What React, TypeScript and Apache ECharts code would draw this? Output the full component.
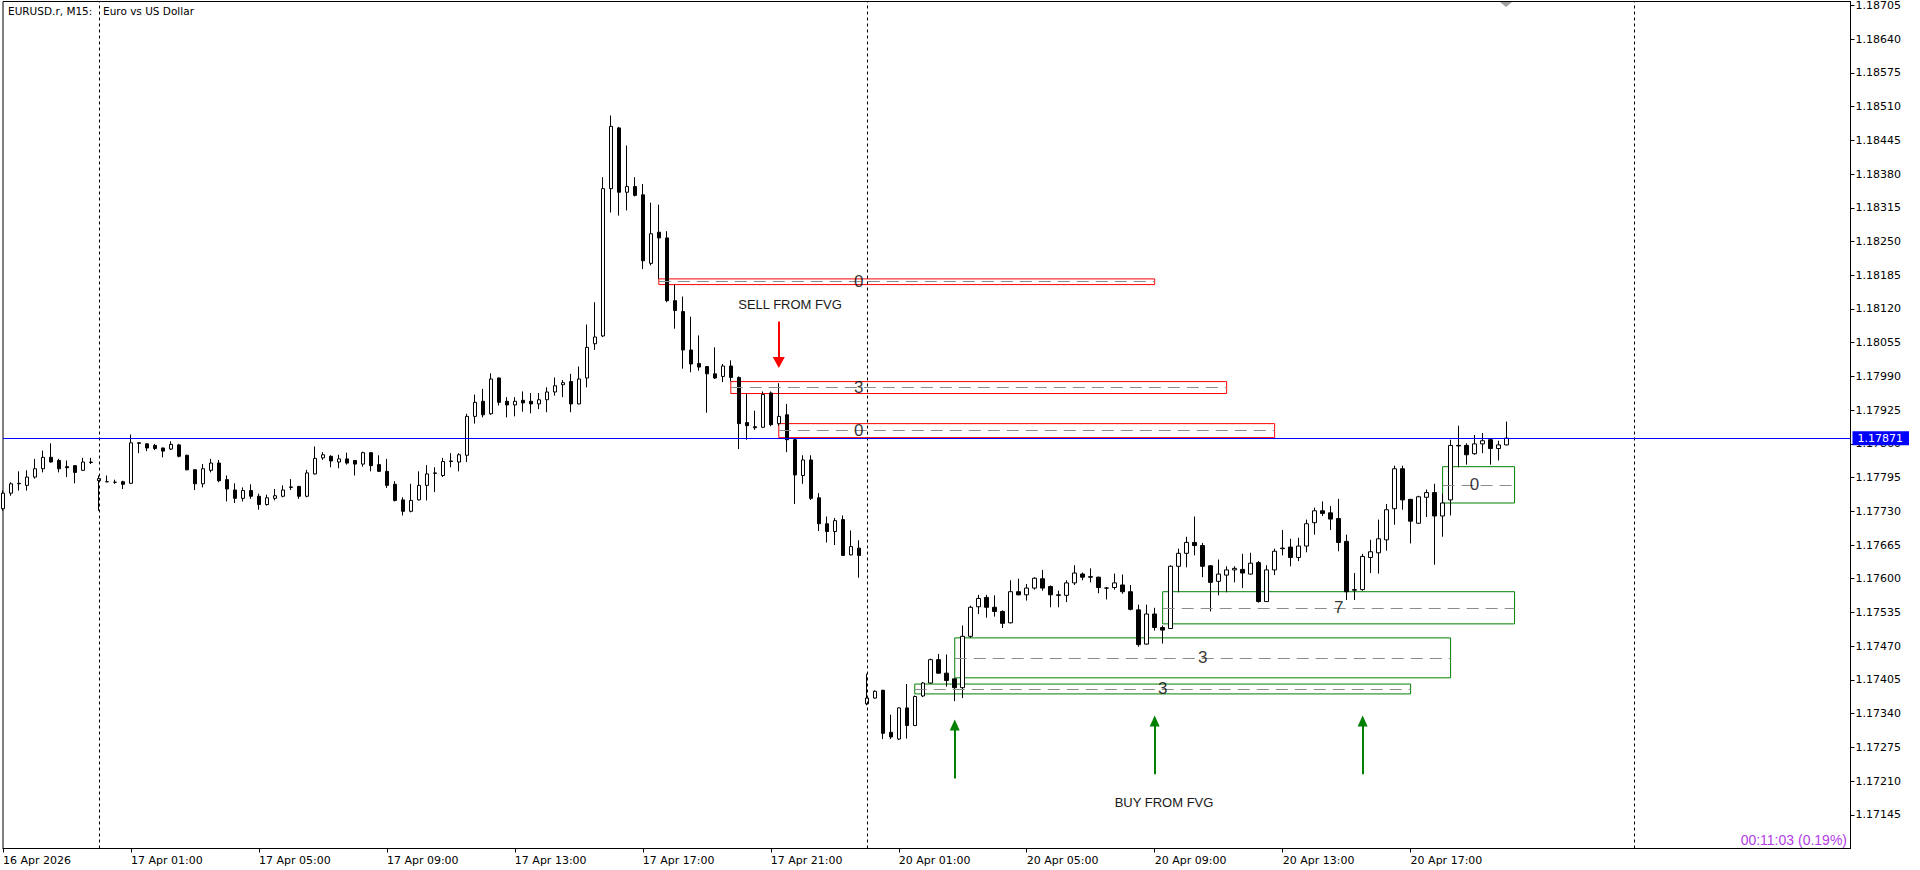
import React, { useEffect, useRef } from 'react';
import * as echarts from 'echarts';

// ---- OHLC values: [open, high, low, close] ----
const thursdayBars: number[][] = [
  [1.17735, 1.17770, 1.17731, 1.17765], [1.17765, 1.17786, 1.17760, 1.17783], [1.17783, 1.17807, 1.17770, 1.17784],
  [1.17780, 1.17809, 1.17770, 1.17796], [1.17796, 1.17831, 1.17793, 1.17812], [1.17812, 1.17847, 1.17805, 1.17834],
  [1.17834, 1.17861, 1.17824, 1.17825], [1.17828, 1.17831, 1.17805, 1.17812], [1.17816, 1.17828, 1.17796, 1.17814],
  [1.17818, 1.17819, 1.17784, 1.17805], [1.17809, 1.17833, 1.17808, 1.17825], [1.17824, 1.17833, 1.17821, 1.17825],
];

const fridayBars: number[][] = [
  [1.17789, 1.17799, 1.17731, 1.17793], [1.17787, 1.17799, 1.17786, 1.17787], [1.17786, 1.17791, 1.17783, 1.17786],
  [1.17787, 1.17789, 1.17773, 1.17782], [1.17784, 1.17878, 1.17783, 1.17862], [1.17862, 1.17863, 1.17842, 1.17861],
  [1.17860, 1.17861, 1.17846, 1.17852], [1.17857, 1.17860, 1.17848, 1.17851], [1.17852, 1.17853, 1.17834, 1.17846],
  [1.17850, 1.17865, 1.17848, 1.17859], [1.17858, 1.17860, 1.17834, 1.17836], [1.17838, 1.17839, 1.17809, 1.17810],
  [1.17810, 1.17811, 1.17771, 1.17783], [1.17783, 1.17821, 1.17776, 1.17812], [1.17809, 1.17831, 1.17805, 1.17823],
  [1.17823, 1.17829, 1.17786, 1.17789], [1.17791, 1.17799, 1.17749, 1.17773], [1.17771, 1.17784, 1.17746, 1.17755],
  [1.17755, 1.17776, 1.17749, 1.17770], [1.17770, 1.17782, 1.17754, 1.17759], [1.17759, 1.17764, 1.17733, 1.17743],
  [1.17743, 1.17762, 1.17741, 1.17756], [1.17755, 1.17773, 1.17751, 1.17760], [1.17759, 1.17780, 1.17757, 1.17771],
  [1.17776, 1.17792, 1.17771, 1.17777], [1.17778, 1.17779, 1.17754, 1.17759], [1.17759, 1.17810, 1.17757, 1.17804],
  [1.17802, 1.17855, 1.17801, 1.17832], [1.17833, 1.17844, 1.17829, 1.17839], [1.17836, 1.17838, 1.17815, 1.17827],
  [1.17825, 1.17839, 1.17813, 1.17831], [1.17831, 1.17843, 1.17820, 1.17823], [1.17828, 1.17829, 1.17799, 1.17821],
  [1.17821, 1.17845, 1.17816, 1.17843], [1.17843, 1.17844, 1.17807, 1.17818], [1.17820, 1.17838, 1.17806, 1.17807],
  [1.17807, 1.17831, 1.17775, 1.17780], [1.17782, 1.17788, 1.17749, 1.17751], [1.17752, 1.17757, 1.17722, 1.17730],
  [1.17730, 1.17783, 1.17728, 1.17751], [1.17752, 1.17807, 1.17751, 1.17780], [1.17780, 1.17819, 1.17751, 1.17802],
  [1.17803, 1.17815, 1.17767, 1.17804], [1.17799, 1.17833, 1.17796, 1.17826], [1.17826, 1.17842, 1.17815, 1.17827],
  [1.17825, 1.17842, 1.17807, 1.17839], [1.17838, 1.17918, 1.17825, 1.17913], [1.17913, 1.17955, 1.17899, 1.17940],
  [1.17942, 1.17966, 1.17911, 1.17916], [1.17918, 1.17996, 1.17916, 1.17985], [1.17987, 1.17988, 1.17934, 1.17940],
  [1.17942, 1.17950, 1.17911, 1.17935], [1.17935, 1.17950, 1.17913, 1.17942], [1.17944, 1.17961, 1.17922, 1.17939],
  [1.17942, 1.17958, 1.17919, 1.17937], [1.17937, 1.17958, 1.17927, 1.17945], [1.17945, 1.17969, 1.17921, 1.17960],
  [1.17960, 1.17988, 1.17953, 1.17972], [1.17974, 1.17983, 1.17950, 1.17978], [1.17980, 1.17995, 1.17921, 1.17937],
  [1.17937, 1.18009, 1.17936, 1.17985], [1.17987, 1.18090, 1.17969, 1.18046], [1.18053, 1.18133, 1.18041, 1.18066],
  [1.18068, 1.18374, 1.18066, 1.18352], [1.18352, 1.18493, 1.18306, 1.18472], [1.18469, 1.18471, 1.18300, 1.18345],
  [1.18345, 1.18435, 1.18310, 1.18356], [1.18356, 1.18374, 1.18337, 1.18339], [1.18340, 1.18361, 1.18197, 1.18213],
  [1.18208, 1.18325, 1.18204, 1.18265], [1.18268, 1.18321, 1.18178, 1.18257], [1.18257, 1.18270, 1.18133, 1.18136],
  [1.18136, 1.18167, 1.18082, 1.18117], [1.18115, 1.18144, 1.18005, 1.18041], [1.18041, 1.18105, 1.17998, 1.18014],
  [1.18015, 1.18069, 1.18001, 1.18008], [1.18009, 1.18010, 1.17920, 1.17995], [1.17995, 1.18046, 1.17985, 1.17987],
  [1.17990, 1.18014, 1.17979, 1.18010], [1.18010, 1.18021, 1.17980, 1.17988], [1.17988, 1.17990, 1.17850, 1.17899],
  [1.17901, 1.17957, 1.17868, 1.17895], [1.17893, 1.17924, 1.17887, 1.17891], [1.17892, 1.17961, 1.17891, 1.17955],
  [1.17958, 1.17961, 1.17894, 1.17897], [1.17899, 1.17977, 1.17895, 1.17913], [1.17916, 1.17937, 1.17844, 1.17868],
  [1.17868, 1.17870, 1.17744, 1.17800], [1.17799, 1.17838, 1.17783, 1.17829], [1.17829, 1.17838, 1.17752, 1.17755],
  [1.17756, 1.17765, 1.17692, 1.17706], [1.17706, 1.17720, 1.17670, 1.17691], [1.17691, 1.17717, 1.17665, 1.17712],
  [1.17714, 1.17722, 1.17644, 1.17645], [1.17646, 1.17693, 1.17645, 1.17662], [1.17659, 1.17674, 1.17602, 1.17645],
];

const mondayBars: number[][] = [
  [1.17359, 1.17417, 1.17356, 1.17370], [1.17370, 1.17385, 1.17369, 1.17383], [1.17385, 1.17386, 1.17291, 1.17302],
  [1.17304, 1.17338, 1.17291, 1.17295], [1.17291, 1.17352, 1.17289, 1.17351], [1.17351, 1.17397, 1.17292, 1.17317],
  [1.17317, 1.17375, 1.17316, 1.17373], [1.17374, 1.17401, 1.17372, 1.17399], [1.17399, 1.17446, 1.17398, 1.17444],
  [1.17444, 1.17455, 1.17417, 1.17418], [1.17418, 1.17454, 1.17392, 1.17404], [1.17407, 1.17408, 1.17364, 1.17390],
  [1.17390, 1.17510, 1.17370, 1.17489], [1.17489, 1.17548, 1.17486, 1.17545], [1.17546, 1.17569, 1.17532, 1.17562],
  [1.17564, 1.17569, 1.17525, 1.17545], [1.17545, 1.17568, 1.17527, 1.17537], [1.17537, 1.17539, 1.17505, 1.17514],
  [1.17515, 1.17597, 1.17514, 1.17575], [1.17575, 1.17600, 1.17568, 1.17569], [1.17569, 1.17590, 1.17558, 1.17582],
  [1.17582, 1.17603, 1.17579, 1.17601], [1.17600, 1.17617, 1.17577, 1.17582], [1.17585, 1.17587, 1.17545, 1.17569],
  [1.17569, 1.17577, 1.17545, 1.17568], [1.17568, 1.17597, 1.17555, 1.17592], [1.17592, 1.17626, 1.17588, 1.17611],
  [1.17609, 1.17612, 1.17597, 1.17603], [1.17604, 1.17620, 1.17593, 1.17603], [1.17603, 1.17604, 1.17572, 1.17583],
  [1.17582, 1.17584, 1.17560, 1.17582], [1.17583, 1.17610, 1.17579, 1.17592], [1.17588, 1.17608, 1.17571, 1.17575],
  [1.17575, 1.17588, 1.17539, 1.17541], [1.17540, 1.17550, 1.17469, 1.17473], [1.17474, 1.17550, 1.17473, 1.17532],
  [1.17532, 1.17544, 1.17500, 1.17506], [1.17506, 1.17510, 1.17475, 1.17501], [1.17504, 1.17626, 1.17503, 1.17624],
  [1.17624, 1.17658, 1.17574, 1.17649], [1.17649, 1.17681, 1.17622, 1.17670], [1.17670, 1.17720, 1.17645, 1.17664],
  [1.17664, 1.17669, 1.17603, 1.17624], [1.17625, 1.17626, 1.17537, 1.17593], [1.17595, 1.17637, 1.17568, 1.17609],
  [1.17607, 1.17624, 1.17574, 1.17617], [1.17617, 1.17624, 1.17593, 1.17620], [1.17618, 1.17648, 1.17582, 1.17611],
  [1.17609, 1.17650, 1.17608, 1.17630], [1.17631, 1.17634, 1.17554, 1.17556], [1.17556, 1.17626, 1.17555, 1.17617],
  [1.17617, 1.17658, 1.17607, 1.17653], [1.17659, 1.17694, 1.17645, 1.17658], [1.17661, 1.17677, 1.17624, 1.17641],
  [1.17641, 1.17679, 1.17634, 1.17663], [1.17663, 1.17714, 1.17651, 1.17706], [1.17708, 1.17737, 1.17685, 1.17731],
  [1.17731, 1.17749, 1.17721, 1.17726], [1.17727, 1.17740, 1.17694, 1.17715], [1.17716, 1.17754, 1.17653, 1.17670],
  [1.17672, 1.17685, 1.17559, 1.17575], [1.17579, 1.17611, 1.17559, 1.17578], [1.17579, 1.17648, 1.17577, 1.17643],
  [1.17641, 1.17675, 1.17611, 1.17652], [1.17650, 1.17714, 1.17610, 1.17677], [1.17675, 1.17744, 1.17654, 1.17733],
  [1.17735, 1.17818, 1.17704, 1.17812], [1.17812, 1.17818, 1.17733, 1.17752], [1.17753, 1.17754, 1.17668, 1.17711],
  [1.17707, 1.17760, 1.17706, 1.17758], [1.17757, 1.17772, 1.17719, 1.17766], [1.17766, 1.17783, 1.17627, 1.17721],
  [1.17721, 1.17764, 1.17681, 1.17746], [1.17752, 1.17868, 1.17722, 1.17857], [1.17857, 1.17895, 1.17815, 1.17856],
  [1.17857, 1.17861, 1.17820, 1.17839], [1.17841, 1.17877, 1.17839, 1.17860], [1.17860, 1.17881, 1.17842, 1.17866],
  [1.17868, 1.17871, 1.17820, 1.17851], [1.17851, 1.17866, 1.17828, 1.17858], [1.17858, 1.17903, 1.17857, 1.17871],
];

// ---- time slots (M15) ----
const sessions = [
  { day: '16 Apr', startQuarter: 84, count: 12 },
  { day: '17 Apr', startQuarter: 0, count: 96 },
  { day: '20 Apr', startQuarter: 0, count: 96 },
  { day: '21 Apr', startQuarter: 0, count: 28 },
];
const xTickBars = [0, 16, 32, 48, 64, 80, 96, 112, 128, 144, 160, 176];
const xTickLabels = [
  '16 Apr 2026', '17 Apr 01:00', '17 Apr 05:00', '17 Apr 09:00', '17 Apr 13:00', '17 Apr 17:00',
  '17 Apr 21:00', '20 Apr 01:00', '20 Apr 05:00', '20 Apr 09:00', '20 Apr 13:00', '20 Apr 17:00',
];
const separatorBars = [12, 108, 204];

// ---- price axis ----
const Y_MIN = 1.1708;
const Y_MAX = 1.187127;
const yTicks = [
  1.17145, 1.1721, 1.17275, 1.1734, 1.17405, 1.1747, 1.17535, 1.176, 1.17665, 1.1773, 1.17795, 1.1786,
  1.17925, 1.1799, 1.18055, 1.1812, 1.18185, 1.1825, 1.18315, 1.1838, 1.18445, 1.1851, 1.18575, 1.1864, 1.18705,
];
const bidPrice = 1.17871;

// ---- FVG zones: [fromBar, toBar, top, bottom, mid, labelBar, label] ----
const sellZones: (number | string)[][] = [
  [82, 144, 1.18178, 1.18167, 1.181725, 107, '0'],
  [91, 153, 1.1798, 1.17957, 1.179685, 107, '3'],
  [97, 159, 1.17899, 1.17872, 1.178855, 107, '0'],
];
const buyZones: (number | string)[][] = [
  [114, 176, 1.17397, 1.17378, 1.173875, 145, '3'],
  [119, 181, 1.17486, 1.17409, 1.174475, 150, '3'],
  [145, 189, 1.17575, 1.17513, 1.17544, 167, '7'],
  [180, 189, 1.17816, 1.17746, 1.17781, 184, '0'],
];

// ---- arrows: [bar, tailPrice, headPrice] ----
const buyArrows = [
  [119, 1.17215, 1.17318],
  [144, 1.17223, 1.17326],
  [170, 1.17223, 1.17326],
];
const sellArrows = [[97, 1.18096, 1.18017]];

const RED = '#ff0000';
const GREEN = '#008000';
const AXIS_FONT = 'DejaVu Sans';
const LAST_SLOT = 231;

function buildCategories(): string[] {
  const out: string[] = [];
  sessions.forEach((s) => {
    for (let k = 0; k < s.count; k++) {
      const q = s.startQuarter + k;
      const hh = String(Math.floor(q / 4)).padStart(2, '0');
      const mm = String((q % 4) * 15).padStart(2, '0');
      out.push(`${s.day} ${hh}:${mm}`);
    }
  });
  return out;
}

function buildOption() {
  const categories = buildCategories();
  const bars = [...thursdayBars, ...fridayBars, ...mondayBars];
  const candleData = bars.map(([o, h, l, c]) => [o, c, l, h]);
  const tickSet = new Set(xTickBars);

  const areaData: any[] = [];
  const lineData: any[] = [];
  const labelData: any[] = [];
  const addZones = (zones: (number | string)[][], color: string) => {
    zones.forEach((z) => {
      const [from, to, top, bottom, mid, lb, txt] = z as [number, number, number, number, number, number, string];
      areaData.push([
        { coord: [from, top], itemStyle: { color: 'rgba(0,0,0,0)', borderColor: color, borderWidth: 1 } },
        { coord: [to, bottom] },
      ]);
      lineData.push([
        { coord: [from, mid], lineStyle: { color: '#8c8c8c', width: 1, type: [12, 7] } },
        { coord: [to, mid] },
      ]);
      labelData.push([lb, mid, txt]);
    });
  };
  addZones(sellZones, RED);
  addZones(buyZones, GREEN);

  separatorBars.forEach((b) => {
    lineData.push({ xAxis: b, lineStyle: { color: '#000', width: 1, type: [3, 3] } });
  });

  const pointData: any[] = [];
  buyArrows.forEach(([b, tail, head]) => {
    lineData.push([
      { coord: [b, tail], lineStyle: { color: GREEN, width: 2, type: 'solid' } },
      { coord: [b, head] },
    ]);
    pointData.push({ coord: [b, head], symbol: 'triangle', symbolSize: [10, 11], symbolRotate: 0, itemStyle: { color: GREEN } });
  });
  sellArrows.forEach(([b, tail, head]) => {
    lineData.push([
      { coord: [b, tail], lineStyle: { color: RED, width: 2, type: 'solid' } },
      { coord: [b, head] },
    ]);
    pointData.push({ coord: [b, head], symbol: 'triangle', symbolSize: [12, 11], symbolRotate: 180, itemStyle: { color: RED } });
  });

  lineData.push([
    {
      coord: [0, bidPrice],
      lineStyle: { color: '#0000ff', width: 1, type: 'solid' },
      label: {
        show: true,
        position: 'end',
        distance: 2,
        formatter: bidPrice.toFixed(5),
        color: '#ffffff',
        backgroundColor: '#0000ff',
        padding: [2, 6, 1, 5],
        fontFamily: AXIS_FONT,
        fontSize: 11,
      },
    },
    { coord: [LAST_SLOT, bidPrice] },
  ]);

  return {
    animation: false,
    backgroundColor: '#ffffff',
    grid: {
      left: 2.5,
      top: 1.5,
      width: 1848,
      height: 847,
      show: true,
      borderColor: '#000',
      borderWidth: 1,
      backgroundColor: '#ffffff',
      containLabel: false,
    },
    xAxis: {
      type: 'category',
      data: categories,
      boundaryGap: false,
      axisLine: { show: true, lineStyle: { color: '#000', width: 1 } },
      axisTick: {
        show: true,
        length: 4,
        interval: (idx: number) => tickSet.has(idx),
        lineStyle: { color: '#000' },
      },
      axisLabel: {
        show: true,
        interval: (idx: number) => tickSet.has(idx),
        formatter: (_v: string, idx: number) => {
          const p = xTickBars.indexOf(idx);
          return p >= 0 ? xTickLabels[p] : '';
        },
        align: 'left',
        margin: 6,
        color: '#000',
        fontSize: 11,
        fontFamily: AXIS_FONT,
      },
      splitLine: { show: false },
    },
    yAxis: {
      type: 'value',
      position: 'right',
      min: Y_MIN,
      max: Y_MAX,
      scale: true,
      axisLine: { show: true, lineStyle: { color: '#000', width: 1 } },
      axisTick: { show: true, length: 4, customValues: yTicks, lineStyle: { color: '#000' } },
      axisLabel: {
        show: true,
        customValues: yTicks,
        formatter: (v: number) => v.toFixed(5),
        margin: 5,
        color: '#000',
        fontSize: 11,
        fontFamily: AXIS_FONT,
      },
      splitLine: { show: false },
    },
    series: [
      {
        type: 'candlestick',
        data: candleData,
        barWidth: 4,
        clip: true,
        itemStyle: {
          color: '#ffffff',
          color0: '#000000',
          borderColor: '#000000',
          borderColor0: '#000000',
          borderColorDoji: '#000000',
          borderWidth: 1,
        },
        emphasis: { disabled: true },
        markArea: { silent: true, label: { show: false }, data: areaData },
        markLine: {
          silent: true,
          precision: 5,
          symbol: ['none', 'none'],
          label: { show: false },
          emphasis: { disabled: true },
          data: lineData,
        },
        markPoint: { silent: true, precision: 5, label: { show: false }, data: pointData },
      },
      {
        type: 'scatter',
        data: labelData,
        symbolSize: 1,
        itemStyle: { color: 'rgba(0,0,0,0)' },
        silent: true,
        z: 5,
        label: {
          show: true,
          position: 'inside',
          formatter: (p: any) => p.value[2],
          color: '#000000',
          fontSize: 17,
          fontFamily: 'Liberation Sans',
        },
      },
    ],
    graphic: [
      { type: 'text', left: 8, top: 5, style: { text: 'EURUSD.r, M15:', fill: '#000', font: '10.5px "DejaVu Sans"' } },
      { type: 'text', left: 103, top: 5, style: { text: 'Euro vs US Dollar', fill: '#000', font: '10.5px "DejaVu Sans"' } },
      {
        type: 'text', x: 790, y: 304,
        style: { text: 'SELL FROM FVG', fill: '#1a1a1a', font: '13px "Liberation Sans"', align: 'center', verticalAlign: 'middle' },
      },
      {
        type: 'text', x: 1164, y: 802,
        style: { text: 'BUY FROM FVG', fill: '#1a1a1a', font: '13px "Liberation Sans"', align: 'center', verticalAlign: 'middle' },
      },
      {
        type: 'text', x: 1847, y: 840,
        style: { text: '00:11:03 (0.19%)', fill: '#b23ee8', font: '14px "Liberation Sans"', align: 'right', verticalAlign: 'middle' },
      },
      {
        type: 'polygon',
        shape: { points: [[1500, 2], [1512, 2], [1506, 7]] },
        style: { fill: '#a0a0a0' },
      },
    ],
  };
}

export default function App() {
  const ref = useRef<HTMLDivElement>(null);
  useEffect(() => {
    if (!ref.current) return;
    const chart = echarts.init(ref.current, null, { renderer: 'svg' });
    chart.setOption(buildOption() as any);
    return () => chart.dispose();
  }, []);
  return (
    <div
      ref={ref}
      style={{ position: 'fixed', left: 0, top: 0, width: 1920, height: 870, background: '#ffffff' }}
    />
  );
}
